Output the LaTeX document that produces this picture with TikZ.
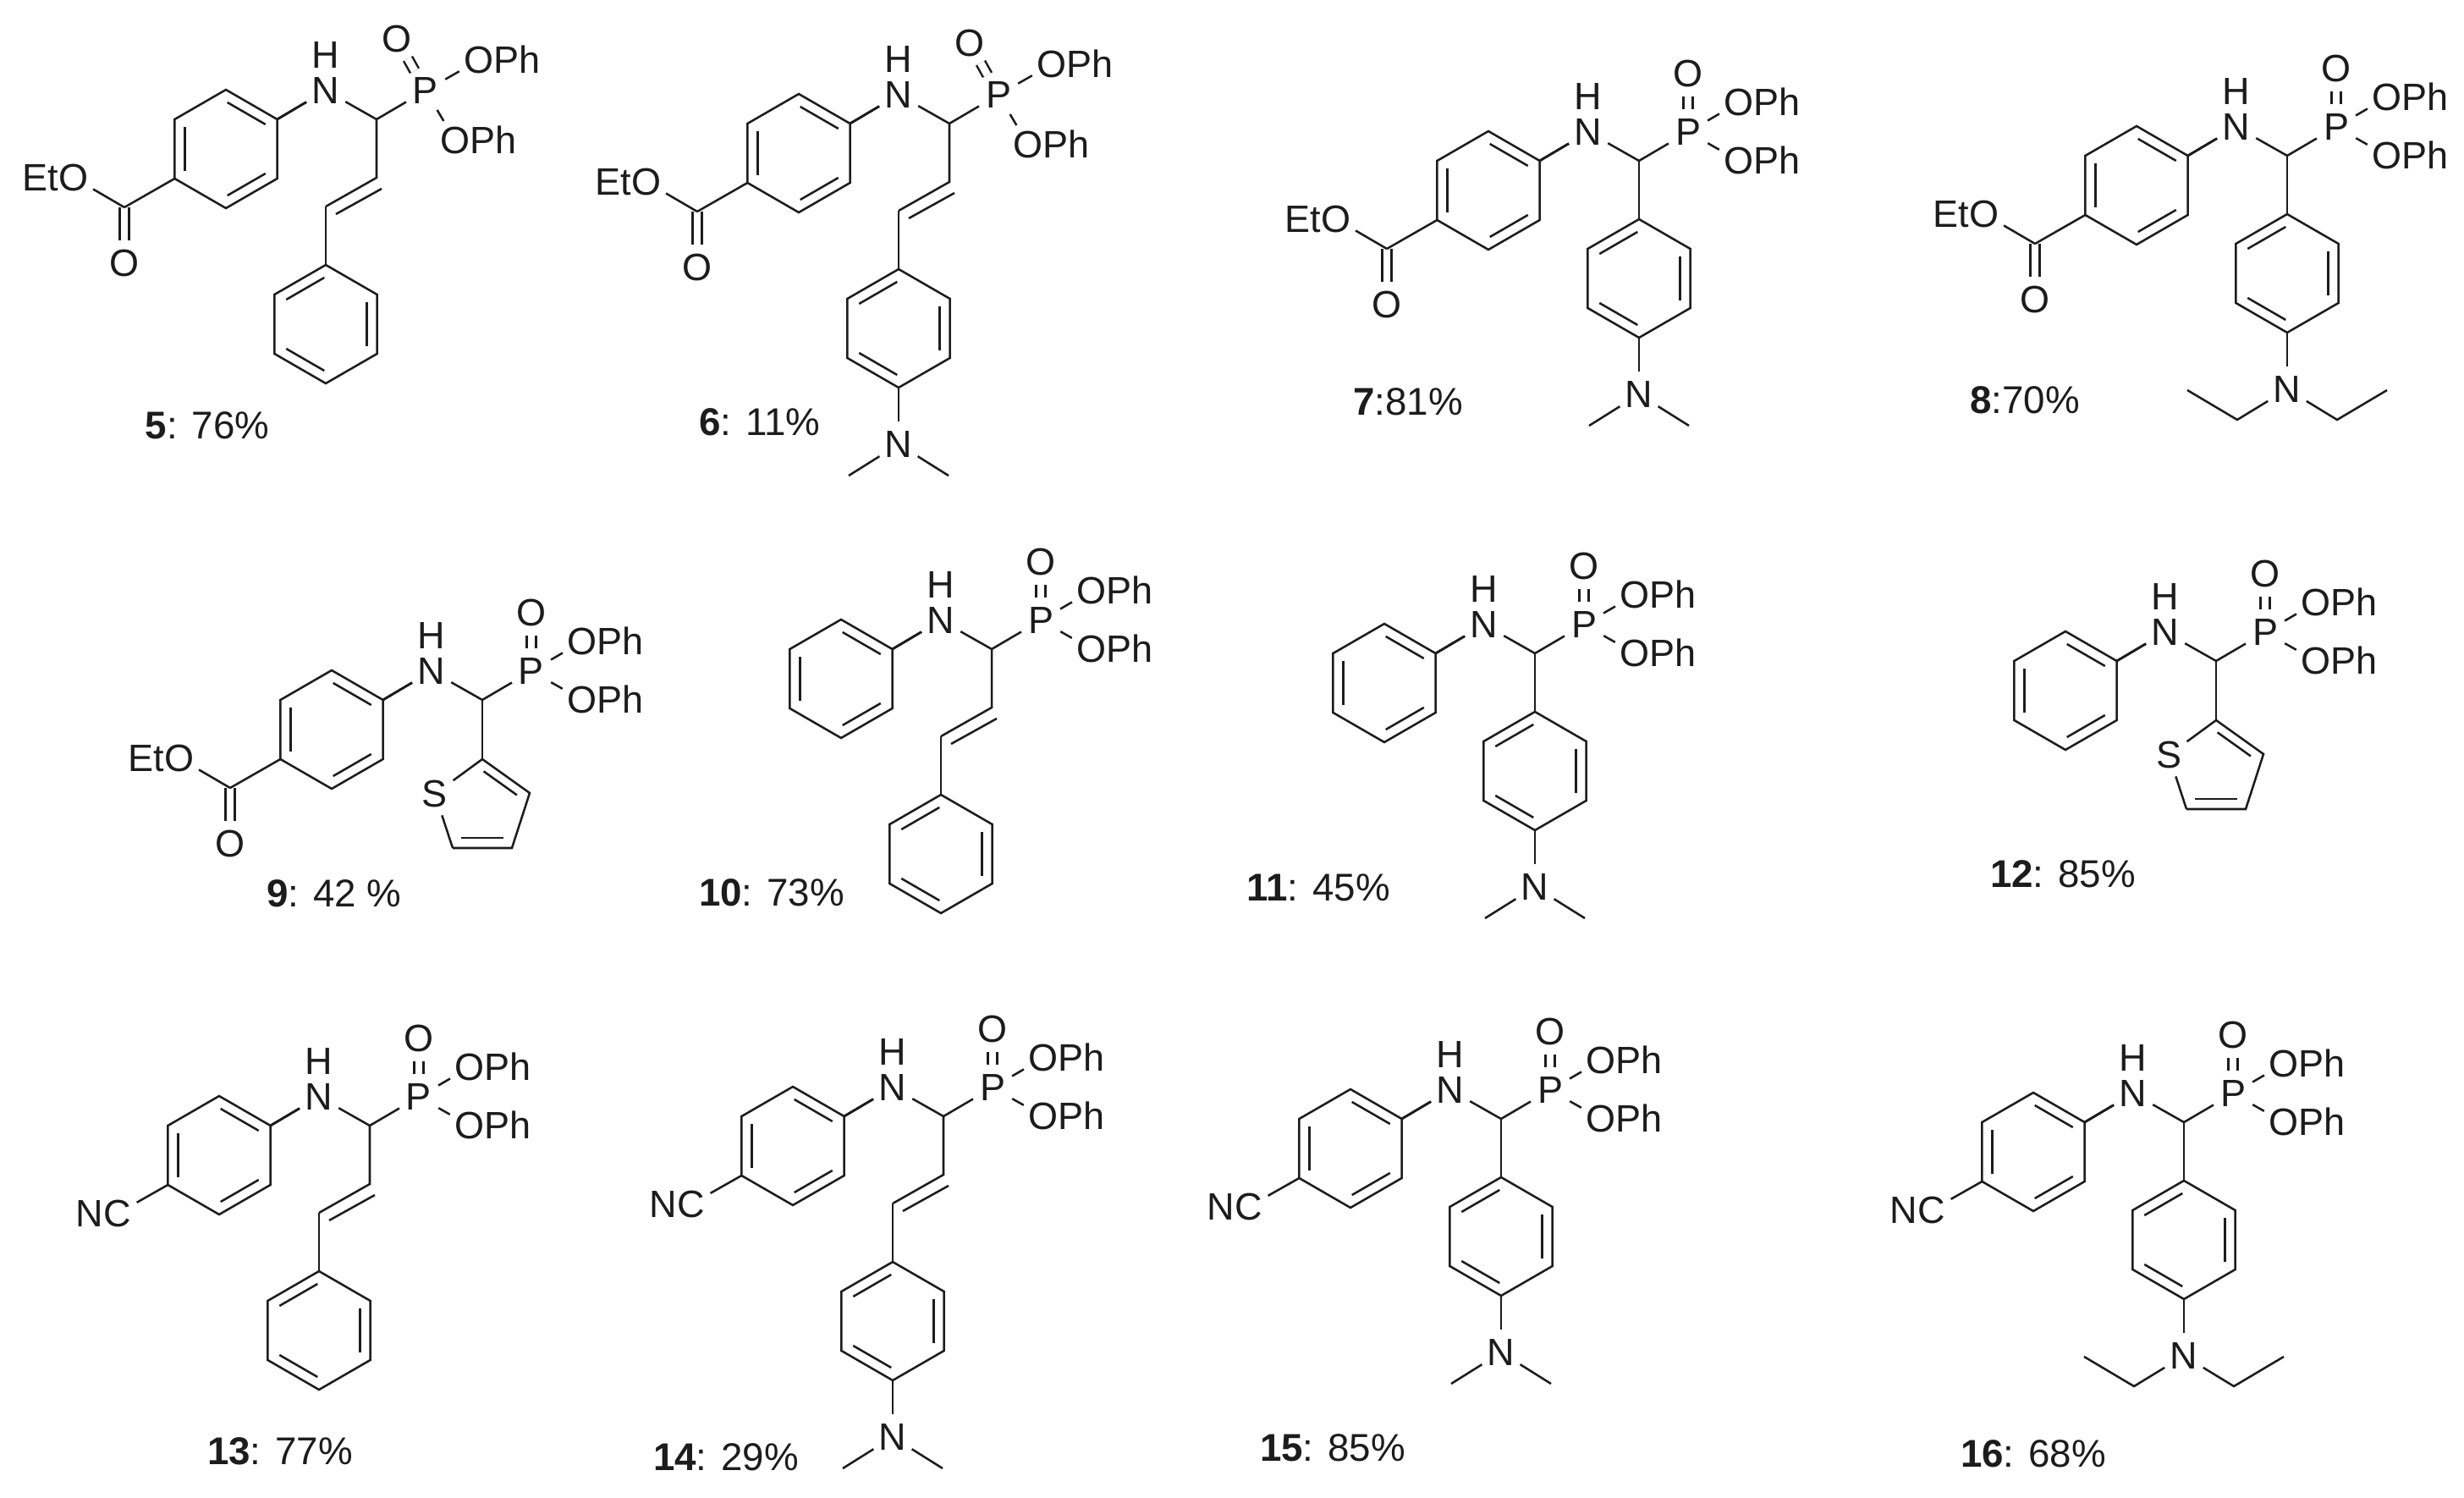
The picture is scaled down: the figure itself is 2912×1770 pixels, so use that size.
\documentclass[tikz,border=0pt]{standalone}
\usepackage{fontspec}
\setmainfont{Liberation Sans}
\usetikzlibrary{calc}

\definecolor{inkc}{HTML}{1C1C1C}

\tikzset{
  bond/.style={draw=inkc, line width=0.72pt, line join=miter},
  dblbond/.style={bond, double=white, double distance=2.5pt},
  atom/.style={circle, inner sep=0pt, minimum size=0.52cm, text=inkc, font=\fontsize{12.8}{15}\selectfont},
  tail/.style={inner sep=0pt, text=inkc, font=\fontsize{12.8}{15}\selectfont},
  yieldlab/.style={inner sep=0pt, text=inkc, font=\fontsize{13}{15}\selectfont}
}

\newcommand{\inbond}[4][.8]{
  \draw[bond, shorten >=0.02cm, shorten <=0.02cm] ($(#2)!#1!(#3)$) -- ($(#2)!#1!(#4)$);
}
\newcommand{\hexring}[4]{
  \coordinate (#1) at (#2,#3);
  \foreach \i/\dx/\dy in {1/0/-70,2/60.6/-35,3/60.6/35,4/0/70,5/-60.6/35,6/-60.6/-35}
    \coordinate (#1\i) at ($(#1)+(\dx,\dy)$);
  \draw[bond] (#11) -- (#12) -- (#13) -- (#14) -- (#15) -- (#16) -- cycle;
  \foreach \p/\q in {#4} \inbond{#1}{#1\p}{#1\q}
}
\newcommand{\coreatoms}{
  \coordinate (c) at (0,0);
  \node[atom] (n) at (-60,-34) {N};
  \node[atom] (h) at (-60,-76) {H};
  \node[atom] (p) at (58,-34) {P};
  \hexring{a}{-178}{35}{1/2,3/4,5/6}
  \draw[bond] (a2) -- (n);
  \draw[bond] (n) -- (c);
  \draw[bond] (c) -- (p);
}
\newcommand{\phosphoryl}[6]{
  \node[atom] (o) at (#1,#2) {O};
  \node[atom] (oa) at (#3,#4) {O};
  \node[atom] (ob) at (#5,#6) {O};
  \node[tail, anchor=base west] (oaph) at ($(oa.base)+(17,0)$) {Ph};
  \node[tail, anchor=base west] (obph) at ($(ob.base)+(17,0)$) {Ph};
  \draw[dblbond] (p) -- (o);
  \draw[bond] (p) -- (oa);
  \draw[bond] (p) -- (ob);
}
\newcommand{\estergroup}{
  \coordinate (e) at (-298,104);
  \node[atom] (eo) at (-298,170) {O};
  \node[atom] (es) at (-358,69) {O};
  \node[tail, anchor=base east] (et) at ($(es.base)+(-17,0)$) {Et};
  \draw[dblbond] (e) -- (eo);
  \draw[bond] (a5) -- (e);
  \draw[bond] (es) -- (e);
}
\newcommand{\cyanogroup}{
  \node[atom] (cy) at ($(a5)+(-60,34)$) {C};
  \node[tail, anchor=base east] (cyn) at ($(cy.base)+(-16,0)$) {N};
  \draw[bond] (a5) -- (cy);
}
\newcommand{\vinylaryl}{
  \coordinate (v1) at (0,69);
  \coordinate (v2) at (-60,103);
  \coordinate (v1i) at (6,82);
  \coordinate (v2i) at (-48,112);
  \draw[bond] (c) -- (v1) -- (v2);
  \draw[bond] (v1i) -- (v2i);
  \hexring{b}{-60}{242}{6/1,2/3,4/5}
  \draw[bond] (v2) -- (b1);
}
\newcommand{\directaryl}{
  \hexring{b}{0}{139}{6/1,2/3,4/5}
  \draw[bond] (c) -- (b1);
}
\newcommand{\thienyl}{
  \coordinate (t1) at (0,70);
  \coordinate (t2) at (56,110);
  \coordinate (t3) at (35,175);
  \coordinate (t4) at (-35,175);
  \coordinate (tm) at (0,125);
  \node[atom] (s) at (-56,111) {S};
  \draw[bond] (c) -- (t1);
  \draw[bond] (t1) -- (t2) -- (t3) -- (t4);
  \draw[bond] (t4) -- (s);
  \draw[bond] (s) -- (t1);
  \inbond[.76]{tm}{t1}{t2}
  \inbond[.76]{tm}{t3}{t4}
}
\newcommand{\dimethylamino}{
  \node[atom] (na) at ($(b4)+(0,67)$) {N};
  \coordinate (me1) at ($(na)+(-59,37)$);
  \coordinate (me2) at ($(na)+(59,37)$);
  \draw[bond] (b4) -- (na);
  \draw[bond] (na) -- (me1);
  \draw[bond] (na) -- (me2);
}
\newcommand{\diethylamino}{
  \node[atom] (na) at ($(b4)+(0,67)$) {N};
  \coordinate (et1) at ($(na)+(-59,36)$);
  \coordinate (et2) at ($(na)+(59,36)$);
  \coordinate (et3) at ($(na)+(-118,1)$);
  \coordinate (et4) at ($(na)+(118,1)$);
  \draw[bond] (b4) -- (na);
  \draw[bond] (na) -- (et1) -- (et3);
  \draw[bond] (na) -- (et2) -- (et4);
}
\newcommand{\phosang}{\phosphoryl{24}{-95}{121}{-70}{93}{25}}
\newcommand{\phosup}{\phosphoryl{58}{-103}{118}{-69}{118}{0}}

\begin{document}
\begin{tikzpicture}[x=0.01cm, y=-0.01cm]
  \useasboundingbox (0,0) rectangle (2912,1770);

  \begin{scope}[shift={(445,141)}, name prefix=m5-]
    \coreatoms \phosang \estergroup \vinylaryl
  \end{scope}
  \begin{scope}[shift={(1122,146)}, name prefix=m6-]
    \coreatoms \phosang \estergroup \vinylaryl \dimethylamino
  \end{scope}
  \begin{scope}[shift={(1937,190)}, name prefix=m7-]
    \coreatoms \phosup \estergroup \directaryl \dimethylamino
  \end{scope}
  \begin{scope}[shift={(2703,184)}, name prefix=m8-]
    \coreatoms \phosup \estergroup \directaryl \diethylamino
  \end{scope}

  \begin{scope}[shift={(570,827)}, name prefix=m9-]
    \coreatoms \phosup \estergroup \thienyl
  \end{scope}
  \begin{scope}[shift={(1172,767)}, name prefix=m10-]
    \coreatoms \phosup \vinylaryl
  \end{scope}
  \begin{scope}[shift={(1814,772)}, name prefix=m11-]
    \coreatoms \phosup \directaryl \dimethylamino
  \end{scope}
  \begin{scope}[shift={(2619,781)}, name prefix=m12-]
    \coreatoms \phosup \thienyl
  \end{scope}

  \begin{scope}[shift={(437,1330)}, name prefix=m13-]
    \coreatoms \phosup \cyanogroup \vinylaryl
  \end{scope}
  \begin{scope}[shift={(1115,1319)}, name prefix=m14-]
    \coreatoms \phosup \cyanogroup \vinylaryl \dimethylamino
  \end{scope}
  \begin{scope}[shift={(1774,1322)}, name prefix=m15-]
    \coreatoms \phosup \cyanogroup \directaryl \dimethylamino
  \end{scope}
  \begin{scope}[shift={(2581,1326)}, name prefix=m16-]
    \coreatoms \phosup \cyanogroup \directaryl \diethylamino
  \end{scope}

  \node[yieldlab] (y5) at (245,503) {\textbf{5}: 76\%};
  \node[yieldlab] (y6) at (898,499) {\textbf{6}: 11\%};
  \node[yieldlab] (y7) at (1664,475) {\textbf{7}:81\%};
  \node[yieldlab] (y8) at (2393,473) {\textbf{8}:70\%};
  \node[yieldlab] (y9) at (395,1056) {\textbf{9}: 42 \%};
  \node[yieldlab] (y10) at (912,1055) {\textbf{10}: 73\%};
  \node[yieldlab] (y11) at (1558,1049) {\textbf{11}: 45\%};
  \node[yieldlab] (y12) at (2438,1033) {\textbf{12}: 85\%};
  \node[yieldlab] (y13) at (331,1715) {\textbf{13}: 77\%};
  \node[yieldlab] (y14) at (858,1722) {\textbf{14}: 29\%};
  \node[yieldlab] (y15) at (1575,1711) {\textbf{15}: 85\%};
  \node[yieldlab] (y16) at (2403,1718) {\textbf{16}: 68\%};
\end{tikzpicture}
\end{document}
